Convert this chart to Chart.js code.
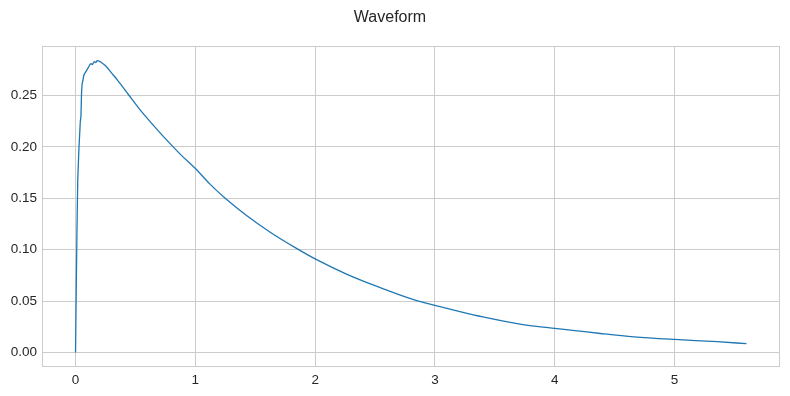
<!DOCTYPE html>
<html>
<head>
<meta charset="utf-8">
<title>Waveform</title>
<script src="https://cdn.jsdelivr.net/npm/chart.js@4.4.1/dist/chart.umd.min.js"></script>
<style>
  html, body { margin: 0; padding: 0; background: #ffffff; }
  #wrap { width: 790px; height: 396px; position: relative; }
</style>
</head>
<body>
<div id="wrap"><canvas id="grafico"></canvas></div>
<script>
// Datos (tiempo / amplitud)
const tiempo = [
  0, 0.006, 0.012, 0.018, 0.024, 0.028, 0.032, 0.036, 0.04, 0.045,
  0.05, 0.055, 0.06, 0.065, 0.07, 0.08, 0.09, 0.10, 0.11, 0.12, 0.13, 0.14,
  0.15, 0.16, 0.17, 0.18, 0.25, 0.30, 0.35, 0.441, 0.539, 0.65, 0.75, 0.873,
  1.0, 1.12, 1.249, 1.43, 1.625, 1.848, 2.0, 2.266, 2.544, 2.822, 3.0, 3.2,
  3.4, 3.686, 4.0, 4.38, 4.66, 5.0, 5.357, 5.6
];
const amplitud = [
  0.000, 0.065, 0.120, 0.165, 0.185, 0.198, 0.207, 0.216, 0.225, 0.230,
  0.252, 0.261, 0.264, 0.267, 0.270, 0.272, 0.274, 0.276, 0.278, 0.280, 0.281, 0.280,
  0.282, 0.283, 0.282, 0.284, 0.279, 0.272, 0.265, 0.251, 0.236, 0.221, 0.208, 0.193,
  0.179, 0.164, 0.150, 0.133, 0.117, 0.101, 0.091, 0.076, 0.063, 0.0514, 0.0458, 0.040,
  0.0346, 0.0281, 0.0233, 0.0184, 0.0152, 0.0126, 0.0104, 0.0085
];

// Marcas de los ejes
const ticksX = [0, 1, 2, 3, 4, 5];
const ticksY = [0, 0.05, 0.10, 0.15, 0.20, 0.25];

const FUENTE = "'Liberation Sans', Arial, sans-serif";
const GRIS = '#cccccc';
const TEXTO = '#262626';

// Marco alrededor del área del gráfico (como el estilo whitegrid)
const marco = {
  id: 'marco',
  afterDraw(chart) {
    const { ctx, chartArea } = chart;
    ctx.save();
    ctx.strokeStyle = GRIS;
    ctx.lineWidth = 1;
    ctx.strokeRect(chartArea.left + 0.5, chartArea.top + 0.5,
      chartArea.right - chartArea.left - 1, chartArea.bottom - chartArea.top - 1);
    ctx.restore();
  }
};

const ctx = document.getElementById('grafico').getContext('2d');

new Chart(ctx, {
  type: 'line',
  data: {
    datasets: [{
      label: 'Waveform',
      data: tiempo.map((t, i) => ({ x: t, y: amplitud[i] })),
      borderColor: '#1f77b4',
      borderWidth: 1.3,
      pointRadius: 0,
      fill: false,
      cubicInterpolationMode: 'monotone'
    }]
  },
  options: {
    responsive: true,
    maintainAspectRatio: false,
    animation: false,
    layout: { padding: { left: 0, right: 10, top: 0, bottom: 0 } },
    plugins: {
      legend: { display: false },
      tooltip: { enabled: false },
      title: {
        display: true,
        text: 'Waveform',
        color: TEXTO,
        font: { family: FUENTE, size: 16, weight: 'normal', lineHeight: 1.2 },
        padding: { top: 8, bottom: 18.8 }
      }
    },
    scales: {
      x: {
        type: 'linear',
        min: -0.28,
        max: 5.88,
        afterBuildTicks: scale => { scale.ticks = ticksX.map(v => ({ value: v })); },
        afterFit: scale => { scale.height = 29; },
        grid: { color: GRIS, drawTicks: false, tickLength: 0 },
        border: { display: false },
        ticks: {
          color: TEXTO,
          padding: 5,
          maxRotation: 0,
          font: { family: FUENTE, size: 13.5 },
          callback: v => String(v)
        }
      },
      y: {
        type: 'linear',
        min: -0.0142,
        max: 0.2982,
        afterBuildTicks: scale => { scale.ticks = ticksY.map(v => ({ value: v })); },
        afterFit: scale => { scale.width = 42; },
        grid: { color: GRIS, drawTicks: false, tickLength: 0 },
        border: { display: false },
        ticks: {
          color: TEXTO,
          padding: 5,
          font: { family: FUENTE, size: 13.5 },
          callback: v => v.toFixed(2)
        }
      }
    }
  },
  plugins: [marco]
});
</script>
</body>
</html>
